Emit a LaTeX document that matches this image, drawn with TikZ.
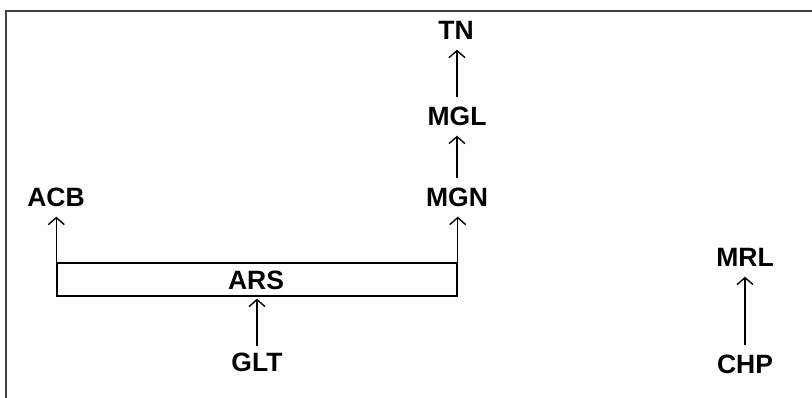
\documentclass[tikz,border=0pt]{standalone}
\usepackage{fontspec}
\setmainfont{Liberation Sans}
\usetikzlibrary{arrows.meta}
\begin{document}
\begin{tikzpicture}[x=1pt,y=-1pt,
  lbl/.style={font=\fontsize{26.5}{30}\selectfont\bfseries, inner sep=0pt, text height=19pt, text depth=0pt},
  arr/.style={line width=1.4pt, -{Straight Barb[length=7pt,width=16pt,line width=1.4pt]}},
  boxnode/.style={draw, line width=1.4pt, minimum width=400pt, minimum height=33pt, inner sep=0pt},
  frameline/.style={draw=black!75, line width=2pt}]
\useasboundingbox (0,0) rectangle (812,398);
\draw[frameline] (6,399) -- (6,11) -- (813,11);
\node[lbl] (TN)  at (456,30)  {TN};
\node[lbl] (MGL) at (457,116) {MGL};
\node[lbl] (MGN) at (457,197) {MGN};
\node[lbl] (ACB) at (56,197)  {ACB};
\node[boxnode] (ARSbox) at (257,279.5) {};
\node[lbl] (ARS) at (256,280) {ARS};
\node[lbl] (GLT) at (257,362) {GLT};
\node[lbl] (MRL) at (745,257) {MRL};
\node[lbl] (CHP) at (745,364) {CHP};
\draw[arr, shorten <=9pt, shorten >=10pt] (MGL.north) -- (MGL.north |- TN.south);
\draw[arr, shorten <=9pt, shorten >=10pt] (MGN.north) -- (MGL.south);
\draw[arr, shorten >=10pt] (ARSbox.north east) -- (ARSbox.north east |- MGN.south);
\draw[arr, shorten >=10pt] (ARSbox.north west) -- (ARSbox.north west |- ACB.south);
\draw[arr, shorten <=6pt, shorten >=2pt] (GLT.north) -- (ARSbox.south);
\draw[arr, shorten <=9pt, shorten >=10pt] (CHP.north) -- (MRL.south);
\end{tikzpicture}
\end{document}
